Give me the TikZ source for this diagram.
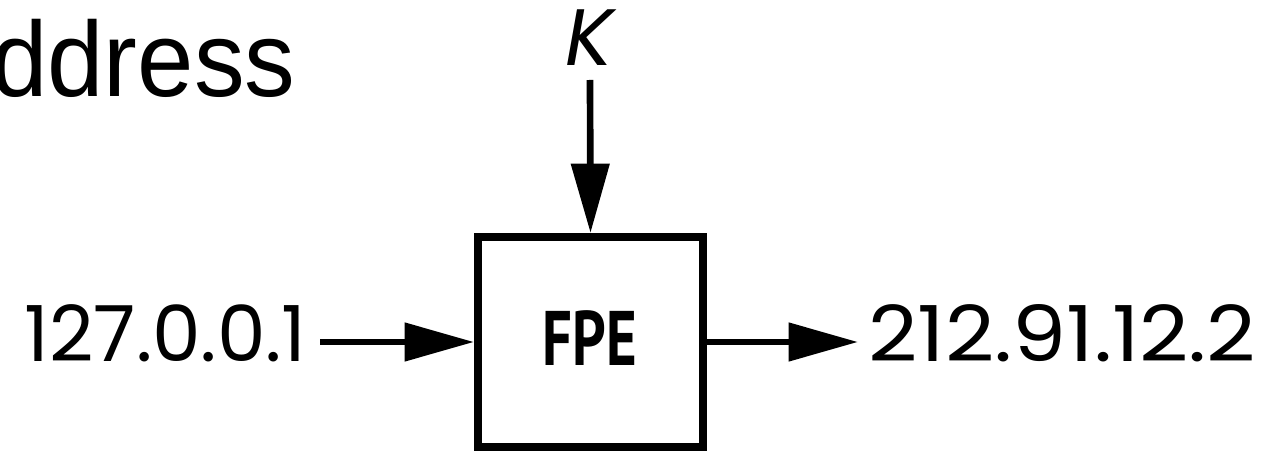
\documentclass[tikz,border=0pt]{standalone}
\usepackage{fontspec}
\usetikzlibrary{arrows.meta}
\newfontfamily\titlefont{Liberation Sans}
\newfontfamily\addrfont{Poppins}
\newfontfamily\boxfont{PT Sans}
\begin{document}
\begin{tikzpicture}[x=0.75pt,y=0.75pt,yscale=-1,
    flow/.style={line width=5pt,-{Triangle[length=52pt,width=28pt]}},
    addr/.style={inner sep=0pt,font=\addrfont\fontsize{58}{60}\selectfont}]
    \useasboundingbox (0,0) rectangle (1282,452);
    % title remains of the slide
    \node (title) [anchor=base west,inner sep=0pt,font=\titlefont\fontsize{80}{80}\selectfont] at (-9,97) {\scalebox{0.95}[1]{ddress}};
    % the cipher box
    \node (fpe) [draw,line width=6pt,minimum width=168.75pt,minimum height=157.5pt,inner sep=0pt] at (590.5,342) {};
    \node (fpelabel) [inner sep=0pt,font=\boxfont\bfseries\fontsize{58}{60}\selectfont] at (590,338.5) {\scalebox{0.76}[1]{FPE}};
    \node (key) [inner sep=0pt,font=\addrfont\itshape\fontsize{60}{60}\selectfont] at (589.5,38) {K};
    \node (in) [addr,anchor=base east] at (307,362) {127.0.0.1};
    \node (out) [addr,anchor=base west] at (868,362) {\scalebox{1.11}[1]{212.91.12.2}};
    \coordinate (keytail) at (590,80);
    \coordinate (intail) at (320,342);
    \coordinate (outtip) at (858,342);
    \draw [flow] (keytail) -- (fpe.north);
    \draw [flow] (intail) -- (fpe.west);
    \draw [flow] (fpe.east) -- (outtip);
\end{tikzpicture}
\end{document}
